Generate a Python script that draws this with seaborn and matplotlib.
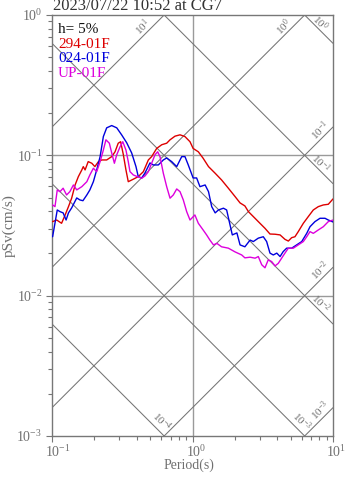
import numpy as np
import pandas as pd
import matplotlib
matplotlib.use('Agg')
import matplotlib.pyplot as plt
import matplotlib.transforms as mtransforms
import seaborn as sns
from matplotlib.ticker import LogLocator, NullFormatter, LogFormatterSciNotation, FixedLocator

# Pseudo-velocity response spectra (h = 5%), period in s, pSv in cm/s
period_294 = [0.101, 0.108, 0.117, 0.124, 0.131, 0.138, 0.146, 0.154, 0.163, 0.167,
              0.172, 0.181, 0.192, 0.202, 0.214, 0.226, 0.245, 0.266, 0.281, 0.296,
              0.308, 0.322, 0.336, 0.349, 0.379, 0.411, 0.447, 0.485, 0.512, 0.556,
              0.604, 0.655, 0.692, 0.751, 0.815, 0.884, 0.960, 1.01, 1.10, 1.19,
              1.30, 1.45, 1.61, 1.80, 2.01, 2.18, 2.36, 2.50, 2.71, 3.02,
              3.28, 3.56, 3.87, 4.20, 4.55, 4.81, 5.08, 5.36, 5.66, 6.15,
              6.67, 7.24, 7.86, 8.53, 9.26, 10.0]
psv_294 = [0.0337, 0.0346, 0.0328, 0.0376, 0.0431, 0.0495, 0.0615, 0.0705, 0.0787, 0.0831,
           0.0787, 0.0902, 0.0878, 0.0831, 0.0902, 0.0927, 0.0927, 0.0979, 0.106, 0.122,
           0.125, 0.101, 0.0787, 0.0649, 0.0676, 0.0705, 0.0765, 0.0927, 0.0979, 0.112,
           0.119, 0.122, 0.129, 0.137, 0.140, 0.136, 0.125, 0.112, 0.106, 0.0954,
           0.0831, 0.0745, 0.0668, 0.0583, 0.0508, 0.0458, 0.0436, 0.0397, 0.0366, 0.0328,
           0.0302, 0.0275, 0.0274, 0.0271, 0.0252, 0.0245, 0.0259, 0.0263, 0.0286, 0.0328,
           0.0366, 0.0408, 0.0431, 0.0443, 0.0448, 0.0489]

period_024 = [0.101, 0.109, 0.114, 0.120, 0.126, 0.131, 0.138, 0.150, 0.158, 0.166,
              0.177, 0.186, 0.197, 0.208, 0.220, 0.232, 0.245, 0.266, 0.289, 0.313,
              0.340, 0.369, 0.396, 0.411, 0.435, 0.459, 0.498, 0.526, 0.571, 0.620,
              0.655, 0.711, 0.772, 0.838, 0.884, 0.933, 1.01, 1.07, 1.13, 1.23,
              1.30, 1.37, 1.45, 1.53, 1.66, 1.75, 1.85, 1.92, 2.07, 2.18,
              2.36, 2.57, 2.71, 2.94, 3.19, 3.37, 3.56, 3.76, 3.98, 4.20,
              4.42, 4.68, 5.08, 5.51, 5.99, 6.50, 6.86, 7.44, 8.08, 8.77,
              9.26, 10.0]
psv_024 = [0.0263, 0.0408, 0.0397, 0.0389, 0.0346, 0.0389, 0.0422, 0.0497, 0.0481, 0.0475,
           0.0522, 0.0567, 0.0649, 0.0787, 0.0979, 0.136, 0.157, 0.163, 0.157, 0.140,
           0.123, 0.104, 0.0831, 0.0705, 0.0690, 0.0749, 0.0883, 0.0854, 0.0854, 0.0927,
           0.0958, 0.0902, 0.0831, 0.0979, 0.0979, 0.0854, 0.0690, 0.0690, 0.0598, 0.0615,
           0.0551, 0.0431, 0.0389, 0.0408, 0.0420, 0.0408, 0.0319, 0.0271, 0.0280, 0.0230,
           0.0223, 0.0249, 0.0243, 0.0257, 0.0263, 0.0243, 0.0201, 0.0195, 0.0201, 0.0190,
           0.0206, 0.0218, 0.0218, 0.0230, 0.0243, 0.0278, 0.0310, 0.0337, 0.0356, 0.0356,
           0.0346, 0.0335]

period_up = [0.101, 0.105, 0.109, 0.114, 0.120, 0.127, 0.134, 0.142, 0.150, 0.163,
             0.177, 0.186, 0.197, 0.208, 0.220, 0.232, 0.242, 0.256, 0.266, 0.278,
             0.289, 0.305, 0.319, 0.336, 0.349, 0.359, 0.379, 0.405, 0.435, 0.459,
             0.485, 0.512, 0.541, 0.565, 0.587, 0.620, 0.655, 0.692, 0.730, 0.772,
             0.815, 0.860, 0.909, 0.960, 1.04, 1.10, 1.19, 1.26, 1.33, 1.41,
             1.49, 1.61, 1.80, 2.01, 2.24, 2.36, 2.57, 2.79, 2.94, 3.11,
             3.28, 3.46, 3.66, 3.87, 4.08, 4.31, 4.55, 4.81, 5.22, 5.66,
             6.15, 6.50, 6.86, 7.24, 7.86, 8.53, 9.26, 10.0]
psv_up = [0.0443, 0.0431, 0.0567, 0.0551, 0.0583, 0.0522, 0.0551, 0.0615, 0.0567, 0.0598,
          0.0649, 0.0725, 0.0809, 0.0765, 0.0902, 0.109, 0.129, 0.122, 0.104, 0.0878,
          0.101, 0.115, 0.125, 0.109, 0.0902, 0.0765, 0.0725, 0.0705, 0.0687, 0.0713,
          0.0765, 0.0878, 0.101, 0.106, 0.0979, 0.0745, 0.0598, 0.0495, 0.0522, 0.0576,
          0.0551, 0.0481, 0.0397, 0.0346, 0.0376, 0.0328, 0.0294, 0.0271, 0.0249, 0.0230,
          0.0236, 0.0223, 0.0218, 0.0205, 0.0195, 0.0186, 0.0188, 0.0185, 0.0190, 0.0166,
          0.0158, 0.0180, 0.0175, 0.0163, 0.0170, 0.0185, 0.0201, 0.0218, 0.0218, 0.0230,
          0.0243, 0.0263, 0.0286, 0.0278, 0.0294, 0.0310, 0.0337, 0.0346]

components = ['294-01F', '024-01F', 'UP-01F']
colors = {'294-01F': '#dd0000', '024-01F': '#0000dd', 'UP-01F': '#dd00dd'}
title = '2023/07/22 10:52 at CG7'
damping_label = 'h= 5%'

# tripartite guide levels
acc_levels = [10.0, 1.0, 0.1, 0.01, 0.001]
disp_levels = [1.0, 0.1, 0.01, 0.001, 0.0001]

sns.set_theme(style='white')
plt.rcParams['font.family'] = ['Liberation Serif', 'DejaVu Serif']
plt.rcParams['mathtext.fontset'] = 'custom'
plt.rcParams['mathtext.rm'] = 'Liberation Serif'
plt.rcParams['mathtext.it'] = 'Liberation Serif:italic'
plt.rcParams['mathtext.bf'] = 'Liberation Serif:bold'

GRAY_TXT = '#707070'
GRAY_LN = '#747474'

fig = plt.figure(figsize=(3.47, 4.78), dpi=100)
ax = fig.add_axes([52/347, 42/478, 281/347, 421/478])

df = pd.concat([
    pd.DataFrame({'period': period_294, 'psv': psv_294, 'comp': components[0]}),
    pd.DataFrame({'period': period_024, 'psv': psv_024, 'comp': components[1]}),
    pd.DataFrame({'period': period_up, 'psv': psv_up, 'comp': components[2]}),
])
sns.lineplot(data=df, x='period', y='psv', hue='comp', hue_order=components,
             estimator=None, sort=False, palette=colors, linewidth=1.0,
             legend=False, ax=ax, zorder=5)
ax.set_xscale('log'); ax.set_yscale('log')
TMIN, TMAX, SMIN, SMAX = 0.1, 10.0, 1e-3, 1.0
ax.set_xlim(TMIN, TMAX); ax.set_ylim(SMIN, SMAX)
ax.set_xlabel(''); ax.set_ylabel('')

# decade grid lines
ax.axvline(1.0, color='#9a9a9a', lw=1.0, zorder=1)
for v in (0.1, 0.01):
    ax.axhline(v, color='#9a9a9a', lw=1.0, zorder=1)

two_pi = 2 * np.pi
Tline = np.array([TMIN, TMAX])
px2pt = 72.0 / fig.dpi

def put_label(level, xy, off, rot):
    e = int(np.round(np.log10(level)))
    ax.annotate(f'$10^{{{e}}}$', xy=xy, xycoords='data',
                xytext=(off[0] * px2pt, -off[1] * px2pt), textcoords='offset points',
                ha='center', va='center', rotation=rot, rotation_mode='anchor',
                fontsize=8, color=GRAY_TXT, annotation_clip=False, zorder=3)

# constant pseudo-acceleration lines (rising)
for a in acc_levels:
    ax.plot(Tline, a * Tline / two_pi, color=GRAY_LN, lw=0.75, zorder=2)
    t_top = two_pi * SMAX / a
    if t_top <= TMAX:
        put_label(a, (t_top, SMAX), (-21, 12), 45)
    else:
        put_label(a, (TMAX, a * TMAX / two_pi), (-13, 3), 45)

# constant displacement lines (falling)
for d in disp_levels:
    ax.plot(Tline, two_pi * d / Tline, color=GRAY_LN, lw=0.75, zorder=2)
    s_right = two_pi * d / TMAX
    if s_right >= SMIN:
        put_label(d, (TMAX, s_right), (-12.5, -20.5), -45)
    else:
        put_label(d, (two_pi * d / SMIN, SMIN), (-2.5, -14.5), -45)

for sp in ax.spines.values():
    sp.set_color('#777777'); sp.set_linewidth(1.0)

ax.xaxis.set_major_locator(FixedLocator([0.1, 1, 10]))
ax.yaxis.set_major_locator(FixedLocator([0.001, 0.01, 0.1, 1]))
ax.xaxis.set_major_formatter(LogFormatterSciNotation())
ax.yaxis.set_major_formatter(LogFormatterSciNotation())
ax.xaxis.set_minor_locator(LogLocator(base=10, subs=np.arange(2, 10)))
ax.yaxis.set_minor_locator(LogLocator(base=10, subs=np.arange(2, 10)))
ax.xaxis.set_minor_formatter(NullFormatter())
ax.yaxis.set_minor_formatter(NullFormatter())
ax.tick_params(which='both', direction='out', color='#777777', width=0.8,
               bottom=True, left=True, top=False, right=False)
ax.tick_params(which='major', length=4, labelsize=10, labelcolor=GRAY_TXT)
ax.tick_params(which='minor', length=2.8)
ax.tick_params(axis='y', which='major', pad=3)
ax.tick_params(axis='x', which='major', pad=1.5)
shift = mtransforms.ScaledTranslation(-7 / 100, 0, fig.dpi_scale_trans)
for lbl in ax.get_xticklabels():
    lbl.set_horizontalalignment('left')
    lbl.set_transform(lbl.get_transform() + shift)

fig.text(53/347, 1 - 10.5/478, title, fontsize=12,
         color='#333333', ha='left', va='baseline')
leg_items = [(damping_label, '#111111')] + [(c, colors[c]) for c in components]
for i, (txt, c) in enumerate(leg_items):
    ax.text(6/281, (403 - 14.7 * i) / 421, txt, transform=ax.transAxes,
            fontsize=11, color=c, ha='left', va='baseline', zorder=6)
fig.text(189/347, 1 - 465/478, 'Period(s)', fontsize=10, color=GRAY_TXT,
         ha='center', va='center')
fig.text(9/347, 1 - 226/478, 'pSv(cm/s)', fontsize=11, color=GRAY_TXT,
         ha='center', va='center', rotation=90)

fig.savefig('out.png', dpi=100)
